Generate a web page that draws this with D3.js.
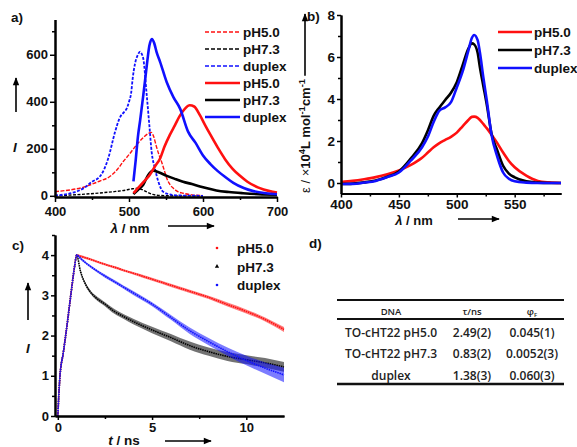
<!DOCTYPE html>
<html lang="en">
<head>
<meta charset="UTF-8">
<title>TO-cHT22 spectra</title>
<style>
  body { margin: 0; background: #fff; }
  svg { display: block; font-family: "Liberation Sans", Arial, sans-serif; font-weight: bold; }
  .axis path, .axis line { stroke: #000; }
  .axis path { stroke-width: 2; }
  .axis line { stroke-width: 1.5; }
  .axis text { font-size: 13px; font-weight: bold; fill: #111; font-family: "Liberation Sans", Arial, sans-serif; }
  .lbl { font-size: 13.5px; fill: #111; }
  .tbl text { font-family: "Open Sans", sans-serif; font-weight: 600; font-size: 12px; fill: #222; }
</style>
</head>
<body>
<svg id="fig" width="577" height="447"></svg>
<script src="https://cdn.jsdelivr.net/npm/d3@7"></script>
<script>
// ---- panel a: fluorescence (dashed = excitation, solid = emission)
const exPH50Wl = [400, 420, 440, 447, 460, 474, 485, 492, 500, 510, 520, 526, 530, 533, 537, 541, 544, 548, 551, 556, 560, 566, 573, 585, 600];
const exPH50   = [18, 25, 38, 46, 62, 82, 115, 145, 175, 216, 250, 265, 270, 255, 210, 170, 145, 105, 75, 45, 32, 18, 11, 4, 1];
const exPH73Wl = [400, 430, 460, 480, 495, 505, 512, 518, 525, 532, 540, 560, 600];
const exPH73   = [0, 5, 12, 18, 24, 30, 32, 26, 15, 6, 2, 0, 0];
const exDupWl  = [400, 420, 440, 450, 460, 466, 472, 481, 488, 493, 497, 500, 503, 505, 508, 512, 515, 517, 519.4, 524, 527.5, 530.6, 535, 539.6, 546, 555, 564, 600];
const exDup    = [2, 10, 35, 60, 80, 110, 160, 270, 335, 355, 372, 400, 440, 500, 560, 600, 613, 605, 582, 427, 300, 187, 117, 61, 18, 6, 2, 0];
const emPH50Wl = [506, 510, 520, 528, 535, 542, 548, 555, 562, 569, 576, 582, 588, 596, 603, 610, 620, 630, 640, 650, 660, 675, 690, 700];
const emPH50   = [11, 25, 60, 89, 125, 159, 210, 258, 300, 342, 372, 385, 380, 342, 300, 260, 205, 155, 115, 85, 60, 35, 20, 14];
const emPH73Wl = [506, 512, 519, 526, 533, 540, 551, 562, 573, 585, 596, 607, 618, 635, 654, 675, 700];
const emPH73   = [7, 25, 46, 89, 107, 100, 85, 72, 60, 50, 40, 31, 23, 16, 11, 7, 5];
const emDupWl  = [506, 509, 512, 515, 519, 522.5, 525, 527.5, 531, 534, 537.4, 542, 551, 560, 569, 580, 590, 600, 610, 620, 630, 641, 655, 668, 685, 700];
const emDup    = [61, 150, 250, 320, 420, 512, 580, 638, 667, 650, 610, 570, 483, 420, 371, 272, 225, 172, 135, 105, 80, 55, 33, 20, 11, 7];
const aXTicks = [400, 500, 600, 700], aXMinor = [450, 550, 650];
const aYTicks = [0, 200, 400, 600], aYMinor = [100, 300, 500, 700];
const aLegend = ['pH5.0', 'pH7.3', 'duplex', 'pH5.0', 'pH7.3', 'duplex'];

// ---- panel b: absorption
const absWl = [400, 410, 420, 430, 440, 450, 460, 470, 475, 480, 485, 490, 495, 500, 505, 510, 513, 515, 518, 520, 523, 526, 530, 535, 540, 545, 550, 560, 570, 580, 590];
const absPH50 = [0.05, 0.1, 0.18, 0.28, 0.42, 0.6, 0.85, 1.2, 1.45, 1.7, 1.9, 2.05, 2.2, 2.4, 2.7, 3.0, 3.15, 3.16, 3.1, 3.0, 2.8, 2.6, 2.3, 1.9, 1.45, 1.05, 0.75, 0.35, 0.1, 0.03, 0];
const absPH73 = [-0.05, -0.03, 0.03, 0.12, 0.3, 0.55, 1.15, 1.9, 2.5, 3.2, 3.6, 3.95, 4.3, 4.8, 5.6, 6.4, 6.65, 6.6, 6.2, 5.5, 4.6, 3.7, 2.35, 1.55, 0.82, 0.45, 0.27, 0.08, 0.02, 0, 0];
const absDup  = [-0.05, -0.04, 0.02, 0.1, 0.28, 0.5, 1.05, 1.7, 2.2, 2.9, 3.45, 3.6, 3.85, 4.55, 5.3, 6.3, 6.9, 7.05, 6.8, 6.2, 5.0, 3.9, 2.3, 1.25, 0.5, 0.2, 0.08, 0.02, 0, 0, 0];
const bXTicks = [400, 450, 500, 550], bXMinor = [425, 475, 525, 575];
const bYTicks = [0, 2, 4, 6, 8], bYMinor = [1, 3, 5, 7];
const bLegend = ['pH5.0', 'pH7.3', 'duplex'];

// ---- panel c: decays (value and scatter half-width)
const tC = [0, 0.05, 0.1, 0.3, 0.5, 0.7, 0.9, 1.0, 1.2, 1.5, 1.7, 2, 2.5, 3, 3.5, 4, 5, 6, 7, 8, 9, 10, 11, 12];
const decPH50 = [0, 0.5, 0.9, 1.6, 2.3, 3.05, 3.75, 4.0, 3.97, 3.93, 3.9, 3.85, 3.77, 3.7, 3.62, 3.55, 3.4, 3.25, 3.1, 2.95, 2.77, 2.6, 2.4, 2.15];
const decPH73 = [0, 0.5, 0.9, 1.6, 2.3, 3.05, 3.75, 4.0, 3.6, 3.25, 3.1, 2.95, 2.78, 2.6, 2.47, 2.35, 2.14, 1.95, 1.75, 1.6, 1.48, 1.4, 1.32, 1.22];
const decDup  = [0, 0.5, 0.9, 1.6, 2.3, 3.05, 3.75, 4.0, 3.92, 3.8, 3.73, 3.63, 3.48, 3.34, 3.2, 3.06, 2.78, 2.45, 2.12, 1.85, 1.6, 1.38, 1.19, 1.02];
const sprPH50 = [0.05, 0.08, 0.08, 0.05, 0.04, 0.03, 0.03, 0.03, 0.03, 0.03, 0.03, 0.03, 0.03, 0.03, 0.03, 0.03, 0.04, 0.04, 0.04, 0.04, 0.05, 0.05, 0.05, 0.06];
const sprPH73 = [0.05, 0.1, 0.1, 0.06, 0.05, 0.04, 0.03, 0.03, 0.03, 0.04, 0.04, 0.05, 0.05, 0.06, 0.06, 0.07, 0.08, 0.09, 0.1, 0.1, 0.11, 0.11, 0.12, 0.12];
const sprDup  = [0.05, 0.1, 0.1, 0.06, 0.05, 0.04, 0.03, 0.03, 0.03, 0.03, 0.03, 0.03, 0.04, 0.04, 0.04, 0.05, 0.05, 0.06, 0.08, 0.09, 0.1, 0.12, 0.14, 0.18];
const cXTicks = [0, 5, 10], cXMinor = [2.5, 7.5];
const cYTicks = [0, 1, 2, 3, 4], cYMinor = [0.5, 1.5, 2.5, 3.5, 4.5];
const cLegend = ['pH5.0', 'pH7.3', 'duplex'];

// ---- panel d: table
const tblHead = ['DNA', 'τ/ns', 'φ'];
const tblDNA = ['TO-cHT22 pH5.0', 'TO-cHT22 pH7.3', 'duplex'];
const tblTau = ['2.49(2)', '0.83(2)', '1.38(3)'];
const tblPhi = ['0.045(1)', '0.0052(3)', '0.060(3)'];

const RED = '#ff1010', BLACK = '#000', BLUE = '#1010ff';
const svg = d3.select('#fig');
const fmt = d3.format('~g');

svg.append('defs').append('marker')
  .attr('id', 'arr').attr('viewBox', '0 0 10 10')
  .attr('refX', 9).attr('refY', 5)
  .attr('markerUnits', 'userSpaceOnUse')
  .attr('markerWidth', 9).attr('markerHeight', 8)
  .attr('orient', 'auto')
  .append('path').attr('d', 'M0,1 L10,5 L0,9 Z').attr('fill', '#000');

function arrow(x1, y1, x2, y2) {
  svg.append('line').attr('x1', x1).attr('y1', y1).attr('x2', x2).attr('y2', y2)
    .attr('stroke', '#000').attr('stroke-width', 1.6).attr('marker-end', 'url(#arr)');
}

function axes(x, y, o) {
  const y0 = y.range()[0], x0 = x.range()[0];
  // minor ticks in their own groups, so they don't replace the labelled ones
  svg.append('g').attr('class', 'axis').attr('transform', `translate(0,${y0})`)
    .call(d3.axisBottom(x).tickValues(o.xm).tickSize(3).tickFormat('').tickSizeOuter(0));
  svg.append('g').attr('class', 'axis').attr('transform', `translate(${x0},0)`)
    .call(d3.axisLeft(y).tickValues(o.ym).tickSize(3).tickFormat('').tickSizeOuter(0));
  const gx = svg.append('g').attr('class', 'axis').attr('transform', `translate(0,${y0})`)
    .call(d3.axisBottom(x).tickValues(o.xt).tickFormat(fmt).tickSize(o.ts).tickPadding(o.xp).tickSizeOuter(0));
  const gy = svg.append('g').attr('class', 'axis').attr('transform', `translate(${x0},0)`)
    .call(d3.axisLeft(y).tickValues(o.yt).tickFormat(fmt).tickSize(o.ts).tickPadding(o.yp).tickSizeOuter(0));
  gx.selectAll('text').style('font-size', o.fs + 'px');
  gy.selectAll('text').style('font-size', o.fs + 'px');
}

function curve(x, y, xs, vs, color, w, dash) {
  svg.append('path').datum(d3.zip(xs, vs))
    .attr('fill', 'none').attr('stroke', color).attr('stroke-width', w)
    .attr('stroke-dasharray', dash || null)
    .attr('d', d3.line().x(d => x(d[0])).y(d => y(d[1])).curve(d3.curveMonotoneX));
}

// ================= a)
const xa = d3.scaleLinear([400, 700], [55, 277]);
const ya = d3.scaleLinear([-5, 750], [197, 19.5]);
curve(xa, ya, exPH73Wl, exPH73, BLACK, 1.4, '3,1.5');
curve(xa, ya, exPH50Wl, exPH50, RED, 1.4, '4,1.5');
curve(xa, ya, exDupWl, exDup, BLUE, 1.8, '3,1.5');
curve(xa, ya, emPH73Wl, emPH73, BLACK, 2.6);
curve(xa, ya, emPH50Wl, emPH50, RED, 2.6);
curve(xa, ya, emDupWl, emDup, BLUE, 2.6);
axes(xa, ya, { xt: aXTicks, xm: aXMinor, yt: aYTicks, ym: aYMinor, ts: 5, xp: 5, yp: 2, fs: 13 });

const aCol = [RED, BLACK, BLUE, RED, BLACK, BLUE];
aLegend.forEach((t, i) => {
  const yy = 32 + i * 17;
  svg.append('line').attr('x1', 205).attr('x2', 240).attr('y1', yy).attr('y2', yy)
    .attr('stroke', aCol[i]).attr('stroke-width', i < 3 ? 1.6 : 2.6)
    .attr('stroke-dasharray', i < 3 ? '4,2' : null);
  svg.append('text').attr('class', 'lbl').attr('x', 243).attr('y', yy + 5).text(t);
});
svg.append('text').attr('class', 'lbl').attr('x', 11).attr('y', 22).text('a)');
svg.append('text').attr('class', 'lbl').attr('x', 15).attr('y', 152).attr('text-anchor', 'middle')
  .style('font-style', 'italic').text('I');
arrow(16, 112, 16, 78);
const la = svg.append('text').attr('class', 'lbl').attr('x', 130).attr('y', 233).attr('text-anchor', 'middle');
la.append('tspan').style('font-style', 'italic').text('λ');
la.append('tspan').text(' / nm');
arrow(168, 226, 214, 226);

// ================= b)
const xb = d3.scaleLinear([400, 590], [341, 561]);
const yb = d3.scaleLinear([-0.5, 8], [193.5, 15]);
curve(xb, yb, absWl, absPH50, RED, 2.6);
curve(xb, yb, absWl, absPH73, BLACK, 2.6);
curve(xb, yb, absWl, absDup, BLUE, 2.6);
axes(xb, yb, { xt: bXTicks, xm: bXMinor, yt: bYTicks, ym: bYMinor, ts: 4, xp: 2, yp: 2, fs: 13.5 });

const bCol = [RED, BLACK, BLUE];
bLegend.forEach((t, i) => {
  const yy = 32 + i * 18;
  svg.append('line').attr('x1', 498).attr('x2', 532).attr('y1', yy).attr('y2', yy)
    .attr('stroke', bCol[i]).attr('stroke-width', 2.6);
  svg.append('text').attr('class', 'lbl').attr('x', 534).attr('y', yy + 5).text(t);
});
svg.append('text').attr('class', 'lbl').attr('x', 307).attr('y', 21).text('b)');
const lb = svg.append('text').attr('class', 'lbl').attr('x', 414).attr('y', 225).attr('text-anchor', 'middle')
  .style('font-size', '13px');
lb.append('tspan').style('font-style', 'italic').text('λ');
lb.append('tspan').text(' / nm');
arrow(458, 219, 499, 219);

const yl = svg.append('text').attr('class', 'lbl')
  .attr('transform', 'translate(310,193) rotate(-90)').style('font-size', '13px');
yl.append('tspan').style('font-weight', 'normal').text('ε / ×');
yl.append('tspan').text('10');
yl.append('tspan').attr('dy', -5).style('font-size', '9.5px').text('4');
yl.append('tspan').attr('dy', 5).text('L mol');
yl.append('tspan').attr('dy', -5).style('font-size', '9.5px').text('-1');
yl.append('tspan').attr('dy', 5).text('cm');
yl.append('tspan').attr('dy', -5).style('font-size', '9.5px').text('-1');
const ylEnd = 193 - yl.node().getComputedTextLength();
arrow(305, ylEnd - 3, 305, 14);

// ================= c)
const xc = d3.scaleLinear([-0.15, 12], [55, 284]);
const yc = d3.scaleLinear([0, 4.5], [416, 235]);
[[decPH73, sprPH73, BLACK], [decPH50, sprPH50, RED], [decDup, sprDup, BLUE]].forEach(([v, s, col]) => {
  const rows = tC.map((t, i) => [t, v[i], s[i]]);
  svg.append('path').datum(rows)
    .attr('fill', col).attr('fill-opacity', 0.55)
    .attr('d', d3.area().x(d => xc(d[0])).y0(d => yc(d[1] - d[2])).y1(d => yc(d[1] + d[2])).curve(d3.curveMonotoneX));
  svg.append('path').datum(rows)
    .attr('fill', 'none').attr('stroke', col).attr('stroke-width', 1.6).attr('stroke-dasharray', '1.5,0.8')
    .attr('d', d3.line().x(d => xc(d[0])).y(d => yc(d[1])).curve(d3.curveMonotoneX));
});
axes(xc, yc, { xt: cXTicks, xm: cXMinor, yt: cYTicks, ym: cYMinor, ts: 4, xp: 3, yp: 2, fs: 13 });

const cCol = [RED, BLACK, BLUE];
cLegend.forEach((t, i) => {
  const yy = 248 + i * 18.5;
  if (i === 1) {
    svg.append('path').attr('d', d3.symbol(d3.symbolTriangle, 8)()).attr('transform', `translate(217,${yy})`).attr('fill', cCol[i]);
  } else {
    svg.append('circle').attr('cx', 217).attr('cy', yy).attr('r', 1.3).attr('fill', cCol[i]);
  }
  svg.append('text').attr('class', 'lbl').attr('x', 237).attr('y', yy + 5).text(t);
});
svg.append('text').attr('class', 'lbl').attr('x', 12).attr('y', 250).text('c)');
svg.append('text').attr('class', 'lbl').attr('x', 28).attr('y', 353).attr('text-anchor', 'middle')
  .style('font-style', 'italic').text('I');
arrow(28, 320, 28, 283);
const lc = svg.append('text').attr('class', 'lbl').attr('x', 124).attr('y', 445).attr('text-anchor', 'middle');
lc.append('tspan').style('font-style', 'italic').text('t');
lc.append('tspan').text(' / ns');
arrow(165, 441, 211, 441);

// ================= d)
svg.append('text').attr('class', 'lbl').attr('x', 309).attr('y', 248).text('d)');
const tbl = svg.append('g').attr('class', 'tbl');
const colX = [391, 472, 532];
[[300, 2.2], [319, 2.2], [384, 2.4]].forEach(([yy, w]) => {
  tbl.append('line').attr('x1', 337).attr('x2', 564).attr('y1', yy).attr('y2', yy)
    .attr('stroke', '#111').attr('stroke-width', w);
});
tblHead.forEach((h, i) => {
  const t = tbl.append('text').attr('x', colX[i]).attr('y', 315).attr('text-anchor', 'middle')
    .style('font-size', '9.5px').text(h);
  if (i === 2) t.append('tspan').attr('dy', 2).style('font-size', '6px').text('F');
});
[tblDNA, tblTau, tblPhi].forEach((col, c) => {
  col.forEach((v, r) => {
    tbl.append('text').attr('x', colX[c]).attr('y', 336.5 + r * 21.5).attr('text-anchor', 'middle').text(v);
  });
});
</script>
</body>
</html>
